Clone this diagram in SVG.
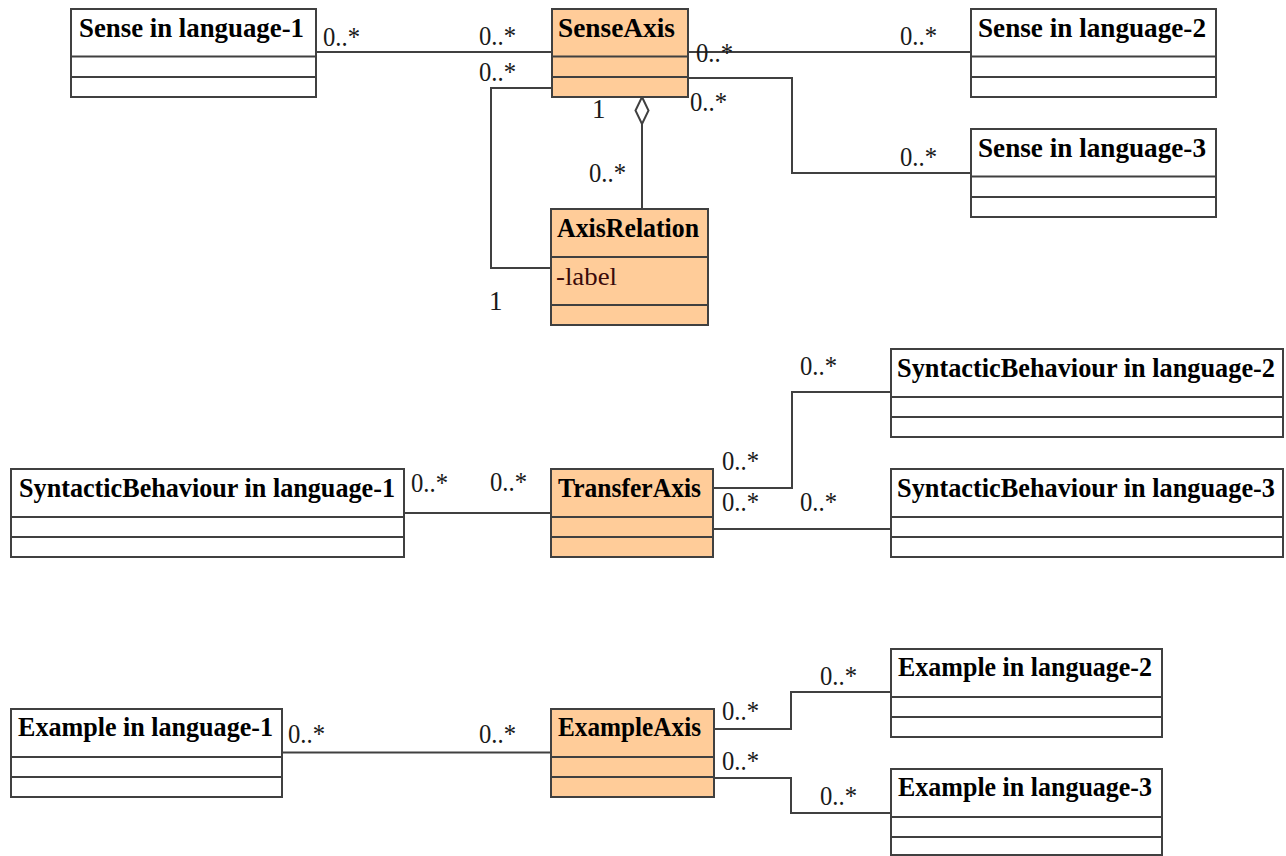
<svg xmlns="http://www.w3.org/2000/svg" width="1286" height="856" viewBox="0 0 1286 856">
<style>
.box{fill:#ffffff;stroke:#404040;stroke-width:2}
.axis{fill:#ffcc99;stroke:#404040;stroke-width:2}
.sep{stroke:#404040;stroke-width:2}
.t{font-family:"Liberation Serif","Times New Roman",serif;font-size:28px;font-weight:bold;fill:#000}
.ts{font-size:26.5px}
.attr{font-family:"Liberation Serif","Times New Roman",serif;font-size:26px;fill:#3a0a0a}
.m{font-family:"Liberation Serif","Times New Roman",serif;font-size:27px;fill:#1a1a1a}
.c{fill:none;stroke:#404040;stroke-width:2}
</style>
<rect width="1286" height="856" fill="#ffffff"/>
<g id="connectors">
<path class="c" d="M316,52 H552"/>
<path class="c" d="M688,52 H971"/>
<path class="c" d="M688,78 H792 V173 H971"/>
<path class="c" d="M552,88 H491 V268 H551"/>
<path class="c" d="M642,124 V209"/>
<polygon points="642,97 648.5,110.5 642,124 635.5,110.5" fill="#ffffff" stroke="#404040" stroke-width="2"/>
<path class="c" d="M404,513 H551"/>
<path class="c" d="M713,488 H792 V392 H891"/>
<path class="c" d="M713,529 H891"/>
<path class="c" d="M282,752.5 H551"/>
<path class="c" d="M714,729 H791 V692 H891"/>
<path class="c" d="M714,778 H791 V813 H891"/>
<g id="multiplicities">
<text class="m" x="323" y="46" textLength="37" lengthAdjust="spacingAndGlyphs">0..*</text>
<text class="m" x="479" y="45" textLength="37" lengthAdjust="spacingAndGlyphs">0..*</text>
<text class="m" x="479" y="81" textLength="37" lengthAdjust="spacingAndGlyphs">0..*</text>
<text class="m" x="696" y="62" textLength="37" lengthAdjust="spacingAndGlyphs">0..*</text>
<text class="m" x="690" y="111" textLength="37" lengthAdjust="spacingAndGlyphs">0..*</text>
<text class="m" x="900" y="45" textLength="37" lengthAdjust="spacingAndGlyphs">0..*</text>
<text class="m" x="900" y="166" textLength="37" lengthAdjust="spacingAndGlyphs">0..*</text>
<text class="m" x="592" y="118">1</text>
<text class="m" x="589" y="182" textLength="37" lengthAdjust="spacingAndGlyphs">0..*</text>
<text class="m" x="489" y="310">1</text>
<text class="m" x="411" y="492" textLength="37" lengthAdjust="spacingAndGlyphs">0..*</text>
<text class="m" x="490" y="491" textLength="37" lengthAdjust="spacingAndGlyphs">0..*</text>
<text class="m" x="800" y="375" textLength="37" lengthAdjust="spacingAndGlyphs">0..*</text>
<text class="m" x="722" y="470" textLength="37" lengthAdjust="spacingAndGlyphs">0..*</text>
<text class="m" x="722" y="511" textLength="37" lengthAdjust="spacingAndGlyphs">0..*</text>
<text class="m" x="800" y="511" textLength="37" lengthAdjust="spacingAndGlyphs">0..*</text>
<text class="m" x="288" y="743" textLength="37" lengthAdjust="spacingAndGlyphs">0..*</text>
<text class="m" x="479" y="743" textLength="37" lengthAdjust="spacingAndGlyphs">0..*</text>
<text class="m" x="722" y="720" textLength="37" lengthAdjust="spacingAndGlyphs">0..*</text>
<text class="m" x="722" y="770" textLength="37" lengthAdjust="spacingAndGlyphs">0..*</text>
<text class="m" x="820" y="685" textLength="37" lengthAdjust="spacingAndGlyphs">0..*</text>
<text class="m" x="820" y="805" textLength="37" lengthAdjust="spacingAndGlyphs">0..*</text>
</g>
</g>
<g id="sense1">
<rect class="box" x="71" y="9" width="245" height="88"/>
<path class="sep" d="M71,56.5 H316 M71,77 H316"/>
<text class="t" x="79" y="37" textLength="225" lengthAdjust="spacingAndGlyphs">Sense in language-1</text>
</g>
<g id="senseAxis">
<rect class="axis" x="552" y="9" width="136" height="88"/>
<path class="sep" d="M552,56.5 H688 M552,77 H688"/>
<text class="t" x="558" y="37" textLength="117" lengthAdjust="spacingAndGlyphs">SenseAxis</text>
</g>
<g id="sense2">
<rect class="box" x="971" y="9" width="245" height="88"/>
<path class="sep" d="M971,56.5 H1216 M971,77 H1216"/>
<text class="t" x="978" y="37" textLength="228" lengthAdjust="spacingAndGlyphs">Sense in language-2</text>
</g>
<g id="sense3">
<rect class="box" x="971" y="129" width="245" height="88"/>
<path class="sep" d="M971,176.5 H1216 M971,197 H1216"/>
<text class="t" x="978" y="157" textLength="228" lengthAdjust="spacingAndGlyphs">Sense in language-3</text>
</g>
<g id="axisRelation">
<rect class="axis" x="551" y="209" width="157" height="116"/>
<path class="sep" d="M551,257 H708 M551,305 H708"/>
<text class="t" x="557" y="237" textLength="142" lengthAdjust="spacingAndGlyphs">AxisRelation</text>
<text class="attr" x="556" y="285" textLength="61" lengthAdjust="spacingAndGlyphs">-label</text>
</g>
<g id="syntactic1">
<rect class="box" x="11" y="469" width="393" height="88"/>
<path class="sep" d="M11,517 H404 M11,537 H404"/>
<text class="t ts" x="19" y="497" textLength="376" lengthAdjust="spacingAndGlyphs">SyntacticBehaviour in language-1</text>
</g>
<g id="transferAxis">
<rect class="axis" x="551" y="469" width="162" height="88"/>
<path class="sep" d="M551,517 H713 M551,537 H713"/>
<text class="t" x="558" y="497" textLength="143" lengthAdjust="spacingAndGlyphs">TransferAxis</text>
</g>
<g id="syntactic2">
<rect class="box" x="891" y="349" width="392" height="88"/>
<path class="sep" d="M891,397 H1283 M891,417 H1283"/>
<text class="t ts" x="897" y="377" textLength="378" lengthAdjust="spacingAndGlyphs">SyntacticBehaviour in language-2</text>
</g>
<g id="syntactic3">
<rect class="box" x="891" y="469" width="392" height="88"/>
<path class="sep" d="M891,517 H1283 M891,537 H1283"/>
<text class="t ts" x="897" y="497" textLength="378" lengthAdjust="spacingAndGlyphs">SyntacticBehaviour in language-3</text>
</g>
<g id="example1">
<rect class="box" x="11" y="709" width="271" height="88"/>
<path class="sep" d="M11,757 H282 M11,777 H282"/>
<text class="t" x="18" y="736" textLength="255" lengthAdjust="spacingAndGlyphs">Example in language-1</text>
</g>
<g id="exampleAxis">
<rect class="axis" x="551" y="709" width="163" height="88"/>
<path class="sep" d="M551,757 H714 M551,777 H714"/>
<text class="t" x="558" y="736" textLength="143" lengthAdjust="spacingAndGlyphs">ExampleAxis</text>
</g>
<g id="example2">
<rect class="box" x="891" y="649" width="271" height="88"/>
<path class="sep" d="M891,697 H1162 M891,717 H1162"/>
<text class="t" x="898" y="676" textLength="254" lengthAdjust="spacingAndGlyphs">Example in language-2</text>
</g>
<g id="example3">
<rect class="box" x="891" y="769" width="271" height="86"/>
<path class="sep" d="M891,817 H1162 M891,837 H1162"/>
<text class="t" x="898" y="796" textLength="254" lengthAdjust="spacingAndGlyphs">Example in language-3</text>
</g>
</svg>
